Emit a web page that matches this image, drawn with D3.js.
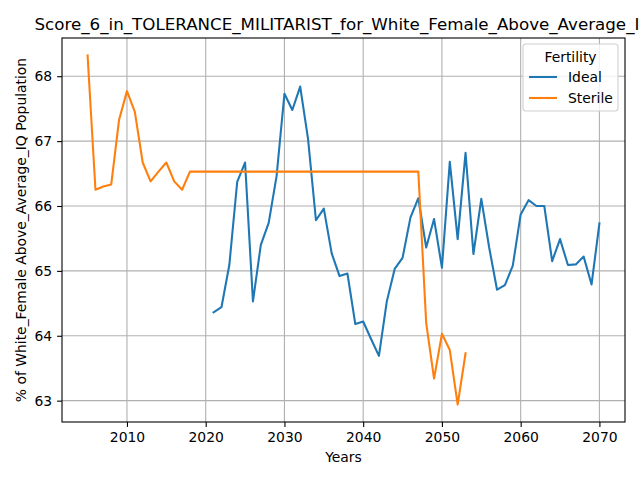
<!DOCTYPE html>
<html>
<head>
<meta charset="utf-8">
<script src="https://cdn.jsdelivr.net/npm/d3@7"></script>
<style>
  body { margin: 0; background: #fff; }
  svg text { font-family: "DejaVu Sans", sans-serif; fill: #000; }
</style>
</head>
<body>
<div id="chart"></div>
<script>
// data
var idealYears = d3.range(2021, 2071);
var idealValues = [64.36, 64.44, 65.09, 66.37, 66.67, 64.53, 65.40, 65.74, 66.46, 67.73,
                   67.48, 67.84, 67.03, 65.78, 65.96, 65.27, 64.92, 64.96, 64.18, 64.22,
                   63.95, 63.69, 64.53, 65.03, 65.20, 65.82, 66.12, 65.36, 65.80, 65.05,
                   66.68, 65.49, 66.82, 65.26, 66.11, 65.36, 64.71, 64.78, 65.08, 65.87,
                   66.09, 66.00, 66.00, 65.15, 65.49, 65.09, 65.10, 65.22, 64.79, 65.73];
var sterileYears = d3.range(2005, 2054);
var sterileValues = [68.32, 66.25, 66.30, 66.33, 67.33, 67.77, 67.45, 66.67, 66.38, 66.53,
                     66.67, 66.38, 66.25, 66.53, 66.53, 66.53, 66.53, 66.53, 66.53, 66.53,
                     66.53, 66.53, 66.53, 66.53, 66.53, 66.53, 66.53, 66.53, 66.53, 66.53,
                     66.53, 66.53, 66.53, 66.53, 66.53, 66.53, 66.53, 66.53, 66.53, 66.53,
                     66.53, 66.53, 66.53, 64.20, 63.34, 64.03, 63.78, 62.94, 63.73];
var seriesNames = ["Ideal", "Sterile"];
var seriesColors = ["#1f77b4", "#ff7f0e"];
var xTicks = [2010, 2020, 2030, 2040, 2050, 2060, 2070];
var yTicks = [63, 64, 65, 66, 67, 68];

var W = 640, H = 480;
var margin = {top: 38, right: 15, bottom: 58, left: 62},
    width = W - margin.left - margin.right,
    height = H - margin.top - margin.bottom;

var svg = d3.select("#chart")
  .append("svg")
    .attr("width", W)
    .attr("height", H);

var g = svg.append("g")
    .attr("transform", "translate(" + margin.left + "," + margin.top + ")");

var series = [
  {name: seriesNames[0], color: seriesColors[0], pts: idealYears.map(function(y, i) { return [y, idealValues[i]]; })},
  {name: seriesNames[1], color: seriesColors[1], pts: sterileYears.map(function(y, i) { return [y, sterileValues[i]]; })}
];

// matplotlib-style 5% margins
var allX = idealYears.concat(sterileYears),
    allY = idealValues.concat(sterileValues);
var xmin = d3.min(allX), xmax = d3.max(allX),
    ymin = d3.min(allY), ymax = d3.max(allY);
var xp = (xmax - xmin) * 0.05, yp = (ymax - ymin) * 0.05;

var x = d3.scaleLinear()
  .domain([xmin - xp, xmax + xp])
  .range([0, width]);
var y = d3.scaleLinear()
  .domain([ymin - yp, ymax + yp])
  .range([height, 0]);

// grid
g.append("g")
  .selectAll("line")
  .data(xTicks)
  .enter()
  .append("line")
    .attr("x1", function(d) { return x(d); })
    .attr("x2", function(d) { return x(d); })
    .attr("y1", 0)
    .attr("y2", height)
    .attr("stroke", "#b0b0b0")
    .attr("stroke-width", 1.1);
g.append("g")
  .selectAll("line")
  .data(yTicks)
  .enter()
  .append("line")
    .attr("x1", 0)
    .attr("x2", width)
    .attr("y1", function(d) { return y(d); })
    .attr("y2", function(d) { return y(d); })
    .attr("stroke", "#b0b0b0")
    .attr("stroke-width", 1.1);

// lines
var line = d3.line()
  .x(function(d) { return x(d[0]); })
  .y(function(d) { return y(d[1]); });

g.selectAll(".series")
  .data(series)
  .enter()
  .append("path")
    .attr("d", function(d) { return line(d.pts); })
    .attr("fill", "none")
    .attr("stroke", function(d) { return d.color; })
    .attr("stroke-width", 2.08)
    .attr("stroke-linejoin", "round")
    .attr("stroke-linecap", "square");

// axes
var xAxis = g.append("g")
  .attr("transform", "translate(0," + height + ")")
  .call(d3.axisBottom(x).tickValues(xTicks).tickFormat(d3.format("d")).tickSize(4.9).tickPadding(4.9));
var yAxis = g.append("g")
  .call(d3.axisLeft(y).tickValues(yTicks).tickFormat(d3.format("d")).tickSize(4.9).tickPadding(4.9));
[xAxis, yAxis].forEach(function(a) {
  a.select(".domain").remove();
  a.selectAll("line").attr("stroke", "#000").attr("stroke-width", 1.1);
  a.selectAll("text").style("font-size", "13.9px").style("font-family", "DejaVu Sans");
});

// frame
g.append("rect")
  .attr("width", width)
  .attr("height", height)
  .attr("fill", "none")
  .attr("stroke", "#000")
  .attr("stroke-width", 1.1);

// labels
svg.append("text")
  .text("Years")
  .attr("text-anchor", "middle")
  .attr("x", margin.left + width / 2)
  .attr("y", 462)
  .style("font-size", "13.9px");

svg.append("text")
  .text("% of White_Female Above_Average_IQ Population")
  .attr("text-anchor", "middle")
  .attr("transform", "translate(26," + (margin.top + height / 2) + ")rotate(-90)")
  .style("font-size", "13.9px");

svg.append("text")
  .text("Score_6_in_TOLERANCE_MILITARIST_for_White_Female_Above_Average_IQ")
  .attr("text-anchor", "middle")
  .attr("x", margin.left + width / 2)
  .attr("y", 30)
  .style("font-size", "16.7px");

// legend
var lg = svg.append("g")
  .attr("transform", "translate(523,44)");
lg.append("rect")
  .attr("width", 95)
  .attr("height", 67)
  .attr("rx", 3)
  .attr("fill", "#fff")
  .attr("fill-opacity", 0.8)
  .attr("stroke", "#d0d0d0")
  .attr("stroke-width", 1.1);
lg.append("text")
  .text("Fertility")
  .attr("text-anchor", "middle")
  .attr("x", 47.5)
  .attr("y", 18)
  .style("font-size", "13.9px");
var items = lg.selectAll(".item")
  .data(series)
  .enter()
  .append("g")
    .attr("transform", function(d, i) { return "translate(0," + (33 + i * 21) + ")"; });
items.append("line")
  .attr("x1", 6)
  .attr("x2", 34)
  .attr("stroke", function(d) { return d.color; })
  .attr("stroke-width", 2.08);
items.append("text")
  .text(function(d) { return d.name; })
  .attr("x", 45)
  .attr("y", 5)
  .style("font-size", "13.9px");
</script>
</body>
</html>
